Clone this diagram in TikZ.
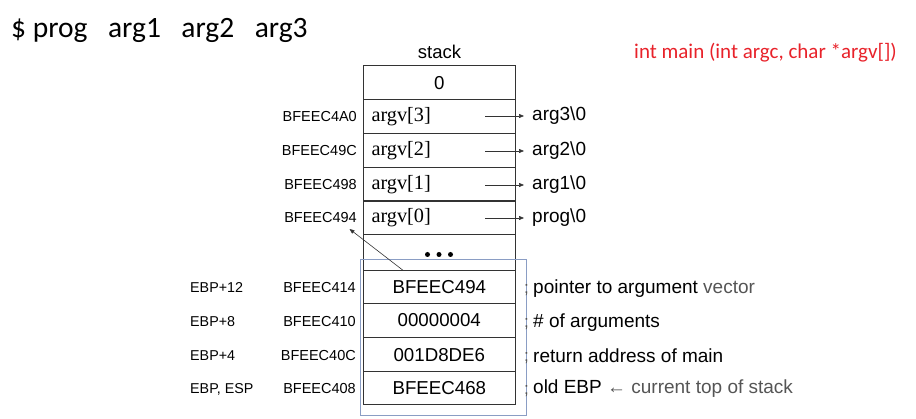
\documentclass[tikz,border=0pt]{standalone}
\usepackage{fontspec}
\setmainfont{Liberation Sans}
\newfontfamily\calib{Carlito}
\newfontfamily\tms{Liberation Serif}
\usetikzlibrary{arrows.meta}
\definecolor{rd}{HTML}{E8222A}
\definecolor{bl}{HTML}{8A9DC4}
\definecolor{gr}{HTML}{555555}
\tikzset{
  cell/.style={draw=black!80, line width=0.8pt, minimum width=152pt, minimum height=33.8pt, inner sep=0pt, outer sep=0pt, anchor=north west},
  val/.style={font=\fontsize{18.7}{19}\selectfont},
  addr/.style={font=\fontsize{14.5}{15}\selectfont, anchor=east, inner sep=0pt},
  ebp/.style={font=\fontsize{14.3}{15}\selectfont, anchor=west, inner sep=0pt},
  argv/.style={font=\tms\fontsize{20.3}{21}\selectfont, anchor=west, inner sep=0pt},
  str/.style={font=\fontsize{19}{19}\selectfont, anchor=west, inner sep=0pt},
  desc/.style={font=\fontsize{19}{19}\selectfont, anchor=west, inner sep=0pt},
  semi/.style={font=\fontsize{17}{18}\selectfont, text=gr, inner sep=0pt},
  dot/.style={circle, fill=black, inner sep=0pt, minimum size=5pt},
  parr/.style={-{Triangle[length=5pt,width=4pt]}, line width=0.6pt, black!80},
}
\begin{document}
\begin{tikzpicture}[x=1pt,y=-1pt]
\useasboundingbox (0,0) rectangle (916,419);
% title
\node[anchor=west, inner sep=0pt, font=\calib\fontsize{29.5}{30}\selectfont] (cmd) at (11,30) {\$ prog\hspace{20.5pt}arg1\hspace{20.5pt}arg2\hspace{20.5pt}arg3};
\node[font=\fontsize{18.5}{19}\selectfont, inner sep=0pt] (stk) at (439.5,52) {stack};
\node[anchor=west, inner sep=0pt, text=rd, font=\calib\fontsize{21}{21}\selectfont] (proto) at (634,53) {int main (int argc, char *argv[])};
% stack cells
\node[cell] (c0) at (363.3,65.7) {};
\node[cell] (c1) at (363.3,99.4) {};
\node[cell] (c2) at (363.3,133.3) {};
\node[cell] (c3) at (363.3,167.3) {};
\node[cell] (c4) at (363.3,200.9) {};
\node[cell, minimum height=36.7pt] (c5) at (363.3,234.0) {};
\node[cell, minimum height=32.6pt] (c6) at (363.3,270.7) {};
\node[cell] (c7) at (363.3,303.3) {};
\node[cell, minimum height=34pt] (c8) at (363.3,337.7) {};
\node[cell, minimum height=32.6pt] (c9) at (363.3,371.7) {};
% cell contents
\node[val] (v0) at (c0.center) {0};
\node[argv] (a3) at ([xshift=8pt]c1.west) {argv[3]};
\node[argv] (a2) at ([xshift=8pt]c2.west) {argv[2]};
\node[argv] (a1) at ([xshift=8pt]c3.west) {argv[1]};
\node[argv] (a0) at ([xshift=8pt]c4.west) {argv[0]};
\node[dot] (dt1) at (427.5,254.5) {};
\node[dot] (dt2) at (439,254.5) {};
\node[dot] (dt3) at (450.5,254.5) {};
\node[val] (v6) at (c6.center) {BFEEC494};
\node[val] (v7) at (c7.center) {00000004};
\node[val] (v8) at (c8.center) {001D8DE6};
\node[val] (v9) at (c9.center) {BFEEC468};
% blue frame
\draw[bl, line width=0.9pt] (360,259.3) rectangle (526.7,415);
% addresses upper
\node[addr] (ad1) at (357,117) {BFEEC4A0};
\node[addr] (ad2) at (357,151) {BFEEC49C};
\node[addr] (ad3) at (357,185) {BFEEC498};
\node[addr] (ad4) at (357,218) {BFEEC494};
% addresses lower
\node[addr] (ad6) at (356,288) {BFEEC414};
\node[addr] (ad7) at (356,322) {BFEEC410};
\node[addr] (ad8) at (356,356) {BFEEC40C};
\node[addr] (ad9) at (356,389) {BFEEC408};
\node[ebp] (e6) at (190,288) {EBP+12};
\node[ebp] (e7) at (190,322) {EBP+8};
\node[ebp] (e8) at (190,356) {EBP+4};
\node[ebp] (e9) at (190,389) {EBP, ESP};
% strings
\node[str] (s3) at (532,116) {arg3\textbackslash 0};
\node[str] (s2) at (532,151) {arg2\textbackslash 0};
\node[str] (s1) at (532,185) {arg1\textbackslash 0};
\node[str] (s0) at (532,218) {prog\textbackslash 0};
\coordinate (p3) at (485,116);
\coordinate (p2) at (485,151);
\coordinate (p1) at (485,185);
\coordinate (p0) at (485,218);
\draw[parr] (p3) -- ([xshift=-8pt]s3.west);
\draw[parr] (p2) -- ([xshift=-8pt]s2.west);
\draw[parr] (p1) -- ([xshift=-8pt]s1.west);
\draw[parr] (p0) -- ([xshift=-8pt]s0.west);
% pointer arrow
\coordinate (pa) at (403.5,270.7);
\coordinate (pb) at (349.5,229);
\draw[parr] (pa) -- (pb);
% descriptions
\node[semi] (sc6) at (526.5,290) {;};
\node[semi] (sc7) at (526.5,324) {;};
\node[semi] (sc8) at (526.5,358) {;};
\node[semi] (sc9) at (526.5,391) {;};
\node[desc] (d6) at (533,289) {pointer to argument \textcolor{gr}{vector}};
\node[desc] (d7) at (533,323) {\# of arguments};
\node[desc] (d8) at (533,356) {return address of main};
\node[desc] (d9) at (533,389) {old EBP \textcolor{gr}{← current top of stack}};
\end{tikzpicture}
\end{document}
